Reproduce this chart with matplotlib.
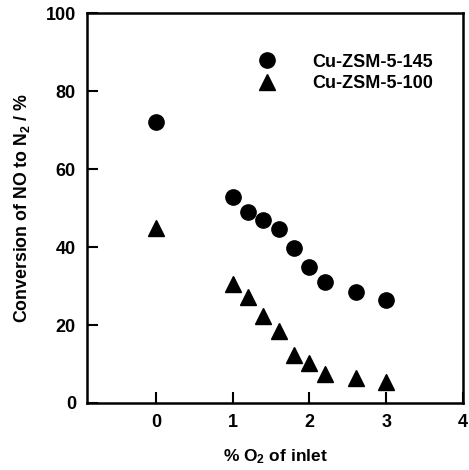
import matplotlib
matplotlib.use("Agg")
import matplotlib.pyplot as plt

# % O2 of inlet
o2_pct = [0, 1.0, 1.2, 1.4, 1.6, 1.8, 2.0, 2.2, 2.6, 3.0]
# conversion of NO to N2 (%)
conv_145 = [72.1, 52.8, 49.0, 46.9, 44.6, 39.7, 34.9, 31.0, 28.5, 26.4]
conv_100 = [45.0, 30.5, 27.2, 22.3, 18.5, 12.3, 10.3, 7.4, 6.4, 5.4]

plt.rcParams["font.family"] = ["Liberation Sans", "DejaVu Sans"]
plt.rcParams["font.weight"] = "bold"
plt.rcParams["mathtext.fontset"] = "custom"
plt.rcParams["mathtext.rm"] = "Liberation Sans:bold"
plt.rcParams["mathtext.it"] = "Liberation Sans:bold"
plt.rcParams["mathtext.bf"] = "Liberation Sans:bold"

fig = plt.figure(figsize=(4.69, 4.70), dpi=100)
ax = fig.add_axes([0.1855, 0.1426, 0.8015, 0.8294])

ax.plot(o2_pct, conv_145, "o", color="black", ms=11, label="Cu-ZSM-5-145")
ax.plot(o2_pct, conv_100, "^", color="black", ms=11, label="Cu-ZSM-5-100")

ax.set_xlim(-0.9, 4)
ax.set_ylim(0, 100)
ax.set_xticks([0, 1, 2, 3, 4])
ax.set_yticks([0, 20, 40, 60, 80, 100])
ax.tick_params(direction="in", length=8, width=1.5, labelsize=13, pad=8,
               top=False, right=False)
for s in ax.spines.values():
    s.set_linewidth(1.8)

ax.set_xlabel("% O$_2$ of inlet", fontsize=12.5, fontweight="bold", labelpad=12)
ax.set_ylabel("Conversion of NO to N$_2$ / %", fontsize=12.8, fontweight="bold",
              labelpad=10)

ax.legend(loc="upper left", bbox_to_anchor=(0.388, 0.938), frameon=False,
          handletextpad=1.5, labelspacing=0.25, numpoints=1,
          prop={"weight": "bold", "size": 13})

fig.savefig("out.png", dpi=100)
